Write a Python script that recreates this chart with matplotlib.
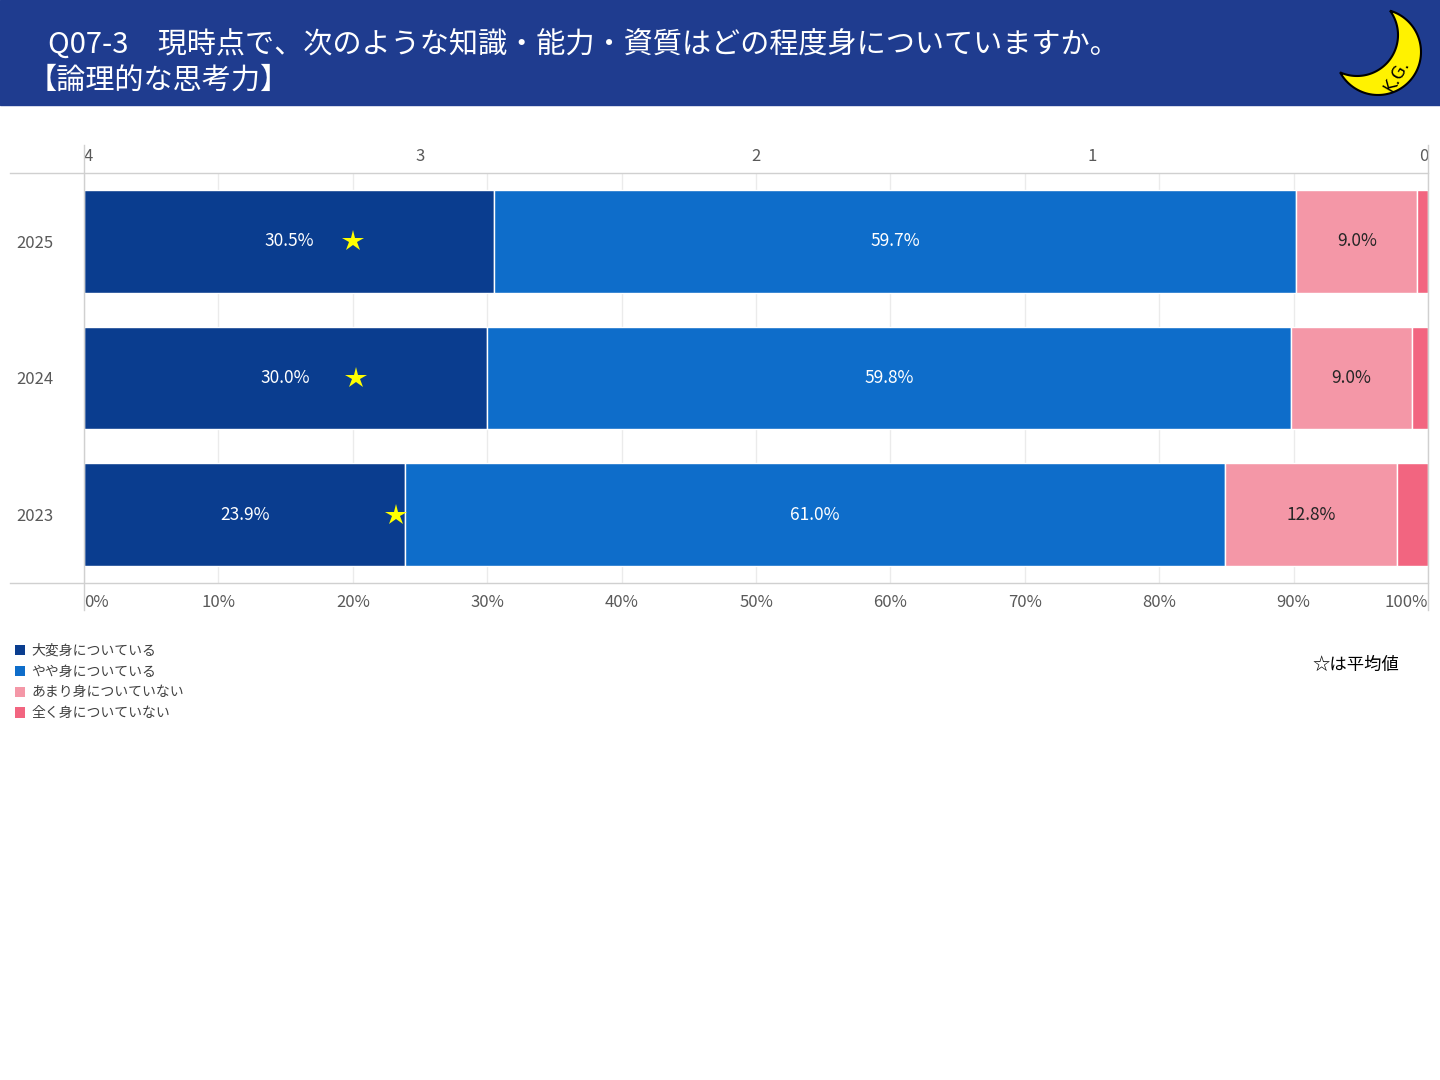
import numpy as np
import matplotlib.pyplot as plt
from matplotlib.patches import Patch, Polygon, Rectangle
from matplotlib.lines import Line2D

plt.rcParams['font.family'] = ['Noto Sans CJK JP', 'DejaVu Sans']

years = ['2025', '2024', '2023']
very = [30.5, 30.0, 23.9]     # 大変身についている
some = [59.7, 59.8, 61.0]     # やや身についている
little = [9.0, 9.0, 12.8]     # あまり身についていない
none_ = [0.8, 1.2, 2.3]       # 全く身についていない
avg = [3.20, 3.19, 3.07]      # 平均値 (4..0 scale)

labels = ['大変身についている', 'やや身についている', 'あまり身についていない', '全く身についていない']
colors = ['#0a3d8f', '#0e6dca', '#f497a7', '#f26580']
text_colors = ['white', 'white', '#262626', None]

W, H = 1440, 1080
fig = plt.figure(figsize=(14.4, 10.8), dpi=100)

# header band
fig.add_artist(Rectangle((0, 1 - 105 / H), 1, 105 / H, transform=fig.transFigure,
                         color='#1f3c8f', zorder=0))
fig.text(48 / W, 1 - 46 / H, 'Q07-3　現時点で、次のような知識・能力・資質はどの程度身についていますか。',
         color='white', fontsize=21, va='center', ha='left')
fig.text(28 / W, 1 - 81 / H, '【論理的な思考力】', color='white', fontsize=21, va='center', ha='left')

# main chart
ax = fig.add_axes([84 / W, 1 - 583 / H, 1344 / W, 410 / H])
y = np.arange(len(years))
left = np.zeros(len(years))
for series, c, tc, lab in zip([very, some, little, none_], colors, text_colors, labels):
    bars = ax.barh(y, series, left=left, height=0.75, color=c, edgecolor='white',
                   linewidth=1, label=lab, zorder=2)
    if tc:
        ax.bar_label(bars, labels=[f'{v:.1f}%' for v in series], label_type='center',
                     color=tc, fontsize=12.5)
    left += np.array(series)

ax.set_xlim(0, 100)
ax.set_ylim(2.5, -0.5)
xt = list(range(0, 101, 10))
ax.set_xticks(xt, [f'{v}%' for v in xt])
ax.tick_params(axis='x', length=0, labelsize=12, labelcolor='#595959', pad=8)
xl = ax.get_xticklabels()
xl[0].set_ha('left')
xl[-1].set_ha('right')
ax.set_yticks(y, years)
ax.tick_params(axis='y', length=0, labelsize=12, labelcolor='#595959', pad=49)
for t in ax.get_yticklabels():
    t.set_ha('left')
ax.grid(axis='x', color='#ebebeb', lw=1)
ax.set_axisbelow(True)
for s in ax.spines.values():
    s.set_visible(False)

# average scale on top
ax2 = ax.twiny()
ax2.set_xlim(4, 0)
ax2.set_xticks([4, 3, 2, 1, 0], ['4', '3', '2', '1', '0'])
ax2.tick_params(axis='x', length=0, labelsize=12, labelcolor='#595959', pad=6)
tl = ax2.get_xticklabels()
tl[0].set_ha('left')
tl[-1].set_ha('right')
for s in ax2.spines.values():
    s.set_visible(False)
ax2.plot(avg, y, ls='none', marker='*', markersize=16, color='#ffff00',
         markeredgewidth=0, zorder=5)

# frame lines
lc = '#d0d0d0'
for yy in (173, 583):
    fig.add_artist(Line2D([10 / W, 1428 / W], [1 - yy / H, 1 - yy / H],
                          transform=fig.transFigure, color=lc, lw=1))
for xx in (84, 1428):
    fig.add_artist(Line2D([xx / W, xx / W], [1 - 145 / H, 1 - 610 / H],
                          transform=fig.transFigure, color=lc, lw=1))

# legend
handles = [Patch(facecolor=c, label=l) for c, l in zip(colors, labels)]
fig.legend(handles=handles, loc='upper left', bbox_to_anchor=(9 / W, 1 - 638 / H),
           frameon=False, fontsize=10, handlelength=0.75, handleheight=0.75,
           handletextpad=0.45, labelspacing=0.5, labelcolor='#404040', borderaxespad=0)

fig.text(1312 / W, 1 - 665 / H, '☆は平均値', fontsize=12.5, color='black', va='center', ha='left')

# logo (crescent)
ov = fig.add_axes([0, 0, 1, 1], zorder=10)
ov.set_xlim(0, W)
ov.set_ylim(H, 0)
ov.axis('off')
c1, r1 = np.array([1378.0, 52.0]), 43.0
c2, r2 = np.array([1357.0, 35.0]), 41.0
d = c1 - c2
D = np.hypot(*d)
base = np.arctan2(d[1], d[0])
a = np.arccos((r2 ** 2 - D ** 2 - r1 ** 2) / (2 * D * r1))
b = np.arccos((D ** 2 + r2 ** 2 - r1 ** 2) / (2 * D * r2))
phi = np.linspace(-a, a, 80) + base
psi = np.linspace(b, -b, 80) + base
pts = np.vstack([np.column_stack([c1[0] + r1 * np.cos(phi), c1[1] + r1 * np.sin(phi)]),
                 np.column_stack([c2[0] + r2 * np.cos(psi), c2[1] + r2 * np.sin(psi)])])
ov.add_patch(Polygon(pts, closed=True, facecolor='#fff200', edgecolor='black', lw=1.5))
ov.text(1397, 76, 'K.G.', fontsize=12, rotation=60, ha='center', va='center',
        color='black', family='DejaVu Sans')

fig.savefig('out.png', dpi=100)
